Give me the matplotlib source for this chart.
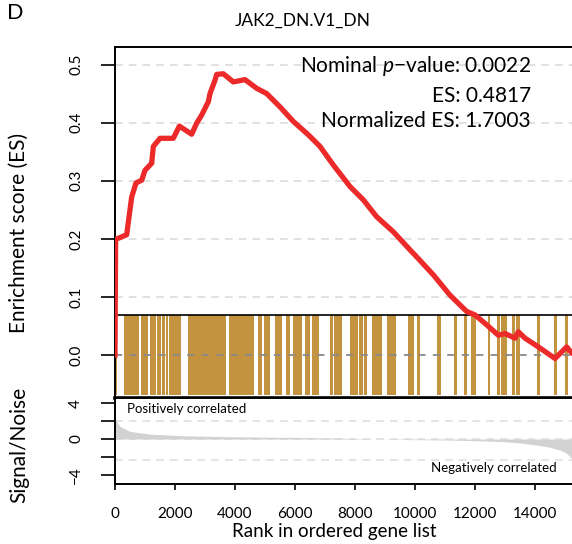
import numpy as np
import matplotlib
matplotlib.use('Agg')
import matplotlib.pyplot as plt

plt.rcParams['font.family'] = ['Lato', 'DejaVu Sans']
plt.rcParams['mathtext.fontset'] = 'custom'
plt.rcParams['mathtext.rm'] = 'Lato'
plt.rcParams['mathtext.it'] = 'Lato:italic'

# running enrichment score (rank, ES)
es_rank = [0, 20, 389, 556, 700, 890, 1000, 1222, 1278, 1500, 1944, 2144, 2556, 2722,
           2889, 3111, 3167, 3333, 3389, 3611, 3944, 4333, 4722, 5056, 5500, 5944,
           6444, 6833, 7278, 7833, 8278, 8722, 9278, 9833, 10000, 10611, 11167, 11722,
           12000, 12389, 12778, 13000, 13333, 13444, 13667, 14167, 14667, 15056, 15233, 15400]
es_val = [0.0, 0.199, 0.207, 0.272, 0.296, 0.301, 0.318, 0.330, 0.359, 0.373, 0.373,
          0.394, 0.380, 0.399, 0.413, 0.436, 0.450, 0.473, 0.483, 0.484, 0.470, 0.474,
          0.459, 0.450, 0.427, 0.402, 0.379, 0.359, 0.327, 0.290, 0.267, 0.238, 0.212,
          0.181, 0.172, 0.138, 0.103, 0.075, 0.069, 0.052, 0.034, 0.037, 0.029, 0.040,
          0.029, 0.012, -0.006, 0.014, 0.003, 0.0]

# gene set hits in the ranked list (start, end of each run of hits)
hit_start = [17, 300, 867, 1167, 1390, 1557, 1700, 1810, 1900, 2443, 3810, 4757, 4957,
             5333, 5700, 5943, 6333, 6557, 7167, 7310, 7833, 8143, 8300, 8557, 9057,
             9777, 10057, 10743, 11300, 11643, 11867, 12423, 12743, 12867, 13243, 13367,
             14077, 14633, 15000]
hit_end = [67, 810, 1110, 1357, 1523, 1667, 1777, 1890, 2190, 3700, 4633, 4890, 5167,
           5577, 5833, 6243, 6500, 6800, 7277, 7577, 8090, 8277, 8400, 8890, 9367,
           9977, 10177, 10857, 11390, 11743, 12033, 12500, 12833, 13077, 13323, 13500,
           14167, 14723, 15090]

# ranked signal/noise metric
sn_rank = [0, 167, 500, 1167, 2267, 3933, 6167, 7500, 8500, 9500, 10833, 11933, 13000,
           13600, 14400, 14833, 15056, 15222, 15400]
sn_val = [2.18, 1.42, 0.85, 0.55, 0.36, 0.25, 0.17, 0.10, 0.02, -0.05, -0.10, -0.17,
          -0.30, -0.47, -0.85, -1.23, -1.60, -2.18, -3.0]

gene_set = 'JAK2_DN.V1_DN'
stats = ['Nominal $p$\u2212value: 0.0022', 'ES: 0.4817', 'Normalized ES: 1.7003']

W, H = 572, 544
fig = plt.figure(figsize=(W / 100, H / 100), dpi=100)

def frac(x0, y0, x1, y1):
    return [x0 / W, 1 - y1 / H, (x1 - x0) / W, (y1 - y0) / H]

ax = fig.add_axes(frac(115, 46.5, 572, 397.5))
ax2 = fig.add_axes(frac(115, 397.5, 572, 484.3))
xmax = 15233

# upper panel
ax.set_xlim(0, xmax)
ax.set_ylim(-0.0731, 0.531)
for g in [0.1, 0.2, 0.3, 0.4, 0.5]:
    ax.axhline(g, color='#d9d9d9', lw=1.1, ls=(0, (5, 4)), zorder=0)
bar_top = 0.069
ax.bar(x=hit_start, height=2 * bar_top, width=np.array(hit_end) - np.array(hit_start),
       bottom=-bar_top, align='edge', color='#C4933F', lw=0, zorder=1)
ax.axhline(bar_top, color='black', lw=1.2, zorder=2)
ax.axhline(0, color='#8a8a8a', lw=1.3, ls=(0, (4, 4)), zorder=2)
ax.plot(es_rank, es_val, color='#EC2A2A', lw=3.8, zorder=3, solid_joinstyle='round')

for s, yb in zip(stats, [0.4866, 0.435, 0.392]):
    ax.text(13870, yb, s, ha='right', va='baseline', fontsize=15, zorder=4)

ax.set_yticks([0.0, 0.1, 0.2, 0.3, 0.4, 0.5])
ax.set_yticklabels(['0.0', '0.1', '0.2', '0.3', '0.4', '0.5'])
ax.set_xticks([])
ax.tick_params(axis='y', length=10, width=1.2, pad=13, labelsize=11, labelrotation=90)
for lbl in ax.get_yticklabels():
    lbl.set_va('center')
ax.spines['right'].set_visible(False)
ax.spines['top'].set_linewidth(1.4)
ax.spines['left'].set_linewidth(1.4)
ax.spines['bottom'].set_linewidth(2.6)

# lower panel
ax2.set_xlim(0, xmax)
ax2.set_ylim(-5.07, 4.65)
for g in [2.05, 0, -2.38]:
    ax2.axhline(g, color='#dcdcdc', lw=1.1, ls=(0, (5, 4)), zorder=0)
ax2.fill_between(sn_rank, 0, sn_val, color='#d2d2d2', lw=0, zorder=1)
ax2.text(390, 3.36, 'Positively correlated', fontsize=9.5, va='center', ha='left')
ax2.text(14723, -3.21, 'Negatively correlated', fontsize=9.5, va='center', ha='right')
ax2.set_yticks([-4, -2, 0, 2, 4])
ax2.set_yticklabels(['\u22124', '', '0', '', '4'])
ax2.set_xticks(range(0, 14001, 2000))
ax2.tick_params(axis='y', length=10, width=1.2, pad=13, labelsize=11, labelrotation=90)
ax2.tick_params(axis='x', length=4, width=1.2, pad=12, labelsize=11)
for lbl in ax2.get_yticklabels():
    lbl.set_va('center')
ax2.spines['right'].set_visible(False)
ax2.spines['top'].set_linewidth(1.4)
ax2.spines['left'].set_linewidth(1.4)
ax2.spines['bottom'].set_linewidth(1.4)

# labels
fig.text(19 / W, 1 - 233 / H, 'Enrichment score (ES)', rotation=90, fontsize=15,
         ha='center', va='center')
fig.text(19 / W, 1 - 445 / H, 'Signal/Noise', rotation=90, fontsize=15,
         ha='center', va='center')
fig.text(334 / W, 1 - 531 / H, 'Rank in ordered gene list', fontsize=13.5,
         ha='center', va='center')
fig.text(303 / W, 1 - 21 / H, gene_set, fontsize=12.5, ha='center', va='center')
fig.text(7 / W, 1 - 13 / H, 'D', fontsize=15.5, ha='left', va='center')

fig.savefig('out.png', dpi=100)
